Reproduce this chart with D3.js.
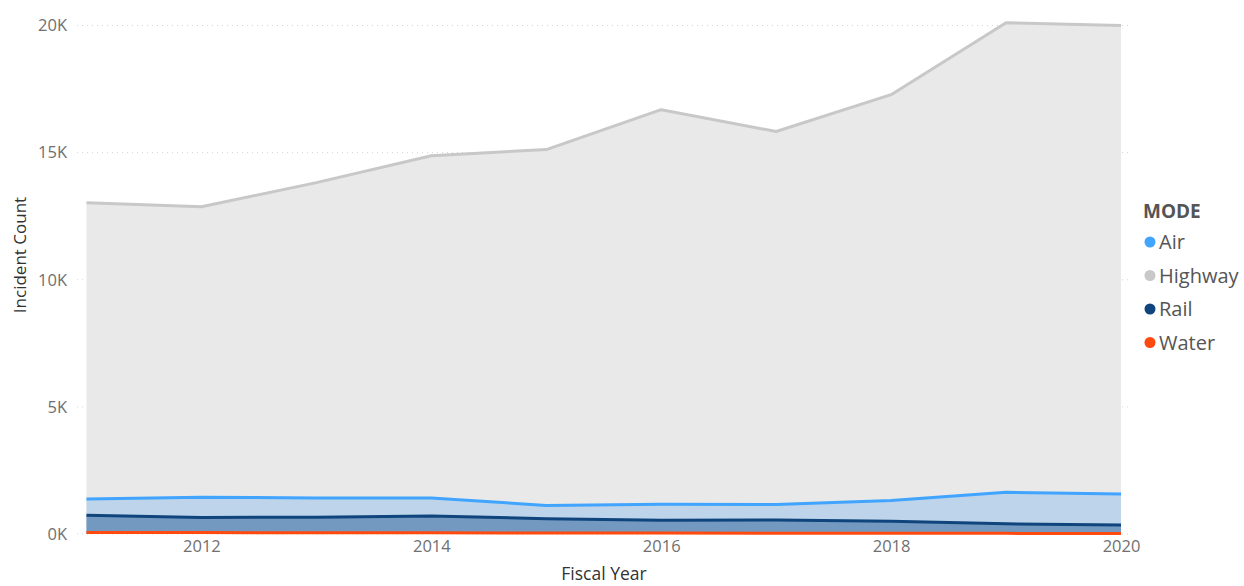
<!DOCTYPE html>
<html><head><meta charset="utf-8">
<script src="https://cdn.jsdelivr.net/npm/d3@7"></script>
<style>body{margin:0;background:#fff;} svg{display:block;}</style>
</head><body>
<svg id="chart" width="1244" height="586"></svg>
<script>
const years = [2011,2012,2013,2014,2015,2016,2017,2018,2019,2020];
const highway = [13030,12870,13820,14880,15120,16690,15830,17280,20110,20000];
const air = [1380,1450,1420,1420,1120,1170,1160,1320,1640,1570];
const rail = [740,650,660,710,600,540,550,500,400,350];
const water = [60,55,50,45,40,35,30,30,25,20];
const seriesNames = ["Air","Highway","Rail","Water"];
const yTicks = [0,5000,10000,15000,20000];
const xTicks = [2012,2014,2016,2018,2020];

const svg = d3.select("#chart");
const x = d3.scaleLinear().domain([2011,2020]).range([86.5,1121]);
const y = d3.scaleLinear().domain([0,20000]).range([534,25.5]);
const font = "'Open Sans', 'Noto Sans', sans-serif";

// gridlines
svg.append("g").selectAll("line").data(yTicks).join("line")
  .attr("x1",77).attr("x2",1131)
  .attr("y1",d=>y(d)).attr("y2",d=>y(d))
  .attr("stroke","#d4d4d4").attr("stroke-width",1).attr("stroke-dasharray","1,4");

// y axis labels
const yAxis = d3.axisLeft(y).tickValues(yTicks).tickFormat(d=>(d/1000)+"K").tickSize(0).tickPadding(0);
const gy = svg.append("g").attr("transform","translate(67,0)").call(yAxis);
gy.select(".domain").remove();
gy.selectAll("text").attr("font-family",font).attr("font-size",16.5).attr("fill","#707070");

// x axis labels
const xAxis = d3.axisBottom(x).tickValues(xTicks).tickFormat(d3.format("d")).tickSize(0).tickPadding(0);
const gx = svg.append("g").attr("transform","translate(0,540)").call(xAxis);
gx.select(".domain").remove();
gx.selectAll("text").attr("font-family",font).attr("font-size",16.5).attr("fill","#707070");

const data = {
  Highway: {vals: highway, fill:"#e9e9e9", stroke:"#c8c8c8"},
  Air: {vals: air, fill:"#bdd4ea", stroke:"#41a4ff"},
  Rail: {vals: rail, fill:"#7399c0", stroke:"#0f457c"},
  Water: {vals: water, fill:"#f0a080", stroke:"#ff4a0f"}
};
const order = ["Highway","Air","Rail","Water"];
const area = d3.area().x((d,i)=>x(years[i])).y0(y(0)).y1(d=>y(d));
const line = d3.line().x((d,i)=>x(years[i])).y(d=>y(d));
order.forEach(k=>{
  svg.append("path").datum(data[k].vals).attr("d",area).attr("fill",data[k].fill);
});
order.forEach(k=>{
  svg.append("path").datum(data[k].vals).attr("d",line).attr("fill","none")
    .attr("stroke",data[k].stroke).attr("stroke-width",3).attr("stroke-linejoin","round");
});

// axis titles
svg.append("text").attr("x",604).attr("y",580).attr("text-anchor","middle")
  .attr("font-family",font).attr("font-size",17.5).attr("fill","#333").text("Fiscal Year");
svg.append("text").attr("transform","translate(26,255) rotate(-90)").attr("text-anchor","middle")
  .attr("font-family",font).attr("font-size",17).attr("fill","#333").text("Incident Count");

// legend
const lg = svg.append("g");
lg.append("text").attr("x",1143).attr("y",218).attr("font-family",font).attr("font-weight","bold")
  .attr("font-size",19).attr("fill","#555").text("MODE");
seriesNames.forEach((n,i)=>{
  const yy = 242 + i*33.5;
  lg.append("circle").attr("cx",1150).attr("cy",yy).attr("r",5.5).attr("fill",data[n].stroke);
  lg.append("text").attr("x",1159).attr("y",yy+7).attr("font-family",font).attr("font-size",20)
    .attr("fill","#555").text(n);
});
</script>
</body></html>
